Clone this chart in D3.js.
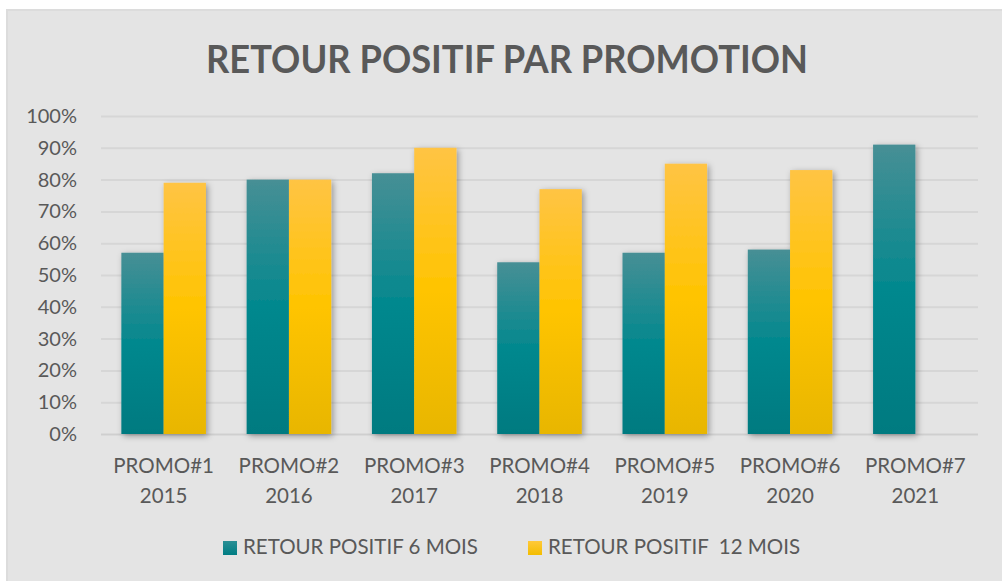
<!DOCTYPE html>
<html>
<head>
<meta charset="utf-8">
<script src="https://cdn.jsdelivr.net/npm/d3@7"></script>
<style>
  html, body { margin: 0; padding: 0; background: #fff; }
  svg { display: block; }
</style>
</head>
<body>
<div id="chart"></div>
<script>
// data
const promos = ["PROMO#1", "PROMO#2", "PROMO#3", "PROMO#4", "PROMO#5", "PROMO#6", "PROMO#7"];
const years = ["2015", "2016", "2017", "2018", "2019", "2020", "2021"];
const retour6 = [0.57, 0.80, 0.82, 0.54, 0.57, 0.58, 0.91];
const retour12 = [0.79, 0.80, 0.90, 0.77, 0.85, 0.83, null];
const seriesNames = ["RETOUR POSITIF 6 MOIS", "RETOUR POSITIF  12 MOIS"];
const yTicks = [0, 0.1, 0.2, 0.3, 0.4, 0.5, 0.6, 0.7, 0.8, 0.9, 1.0];

const width = 1002, height = 581;
const margin = {top: 116, right: 24, bottom: 147, left: 101};
const font = "Lato, 'Open Sans', sans-serif";
const textColor = "#595959";

const svg = d3.select("#chart").append("svg")
    .attr("width", width)
    .attr("height", height);

// background panel
svg.append("rect")
    .attr("x", 6).attr("y", 9)
    .attr("width", width - 6).attr("height", height - 9)
    .attr("fill", "#dcdcdc");
svg.append("rect")
    .attr("x", 8).attr("y", 11)
    .attr("width", width - 8).attr("height", height - 11)
    .attr("fill", "#e4e4e4");

const defs = svg.append("defs");

function grad(id, stops) {
  const g = defs.append("linearGradient")
      .attr("id", id)
      .attr("x1", 0).attr("y1", 0).attr("x2", 0).attr("y2", 1);
  stops.forEach(s => g.append("stop").attr("offset", s[0]).attr("stop-color", s[1]));
}
grad("gTeal", [["0%", "#478f95"], ["50%", "#03888e"], ["100%", "#007a80"]]);
grad("gGold", [["0%", "#ffc444"], ["50%", "#ffc400"], ["100%", "#e8b600"]]);
grad("lTeal", [["0%", "#2a8f95"], ["100%", "#007d83"]]);
grad("lGold", [["0%", "#ffc93a"], ["100%", "#f3bd00"]]);

const shadow = defs.append("filter")
    .attr("id", "shadow")
    .attr("x", "-30%").attr("y", "-10%")
    .attr("width", "160%").attr("height", "130%");
shadow.append("feDropShadow")
    .attr("dx", 2).attr("dy", 2)
    .attr("stdDeviation", 3)
    .attr("flood-color", "#000")
    .attr("flood-opacity", 0.35);

// title
svg.append("text")
    .attr("x", 507)
    .attr("y", 73)
    .attr("text-anchor", "middle")
    .attr("fill", textColor)
    .style("font-family", font)
    .style("font-size", "39px")
    .style("font-weight", "bold")
    .attr("textLength", 602)
    .attr("lengthAdjust", "spacingAndGlyphs")
    .text("RETOUR POSITIF PAR PROMOTION");

const x0 = d3.scaleBand()
    .domain(promos)
    .range([margin.left, width - margin.right])
    .paddingInner(0.325)
    .paddingOuter(0.1625);

const x1 = d3.scaleBand()
    .domain([0, 1])
    .range([0, x0.bandwidth()]);

const y = d3.scaleLinear()
    .domain([0, 1])
    .range([height - margin.bottom, margin.top]);

// gridlines + y labels
const yAxis = svg.append("g")
    .attr("transform", `translate(${margin.left},0)`)
    .call(d3.axisLeft(y)
        .tickValues(yTicks)
        .tickFormat(d3.format(".0%"))
        .tickSize(0)
        .tickPadding(24))
    .call(g => g.select(".domain").remove());

yAxis.selectAll(".tick line")
    .attr("x2", width - margin.right - margin.left)
    .attr("stroke", d => d === 0 ? "#cfcfcf" : "#d6d6d6")
    .attr("stroke-width", 2);

yAxis.selectAll(".tick text")
    .attr("fill", textColor)
    .style("font-family", font)
    .style("font-size", "20px");

// bars
const rows = promos.map((p, i) => ({promo: p, vals: [retour6[i], retour12[i]]}));
const fills = ["url(#gTeal)", "url(#gGold)"];

const groups = svg.append("g")
  .selectAll("g")
  .data(rows)
  .join("g")
    .attr("transform", d => `translate(${x0(d.promo)},0)`)
    .attr("filter", "url(#shadow)");

groups.selectAll("rect")
  .data(d => d.vals.map((v, k) => ({k, v})).filter(e => e.v != null))
  .join("rect")
    .attr("x", e => x1(e.k))
    .attr("y", e => y(e.v))
    .attr("width", x1.bandwidth())
    .attr("height", e => y(0) - y(e.v))
    .attr("fill", e => fills[e.k]);

// x labels (two lines)
const xLab = svg.append("g")
  .selectAll("text")
  .data(promos)
  .join("text")
    .attr("x", d => x0(d) + x0.bandwidth() / 2)
    .attr("text-anchor", "middle")
    .attr("fill", textColor)
    .style("font-family", font)
    .style("font-size", "20.5px");

xLab.append("tspan")
    .attr("x", d => x0(d) + x0.bandwidth() / 2)
    .attr("y", 473)
    .text(d => d);
xLab.append("tspan")
    .attr("x", d => x0(d) + x0.bandwidth() / 2)
    .attr("y", 503)
    .text((d, i) => years[i]);

// legend
const legendX = [223, 528];
const legendFill = ["url(#lTeal)", "url(#lGold)"];
const legend = svg.append("g")
  .selectAll("g")
  .data(seriesNames)
  .join("g")
    .attr("transform", (d, i) => `translate(${legendX[i]},541)`);

legend.append("rect")
    .attr("width", 14).attr("height", 14)
    .attr("fill", (d, i) => legendFill[i]);

legend.append("text")
    .attr("x", 20)
    .attr("y", 13)
    .attr("fill", textColor)
    .style("font-family", font)
    .style("font-size", "20.5px")
    .style("white-space", "pre")
    .attr("xml:space", "preserve")
    .text(d => d);
</script>
</body>
</html>
